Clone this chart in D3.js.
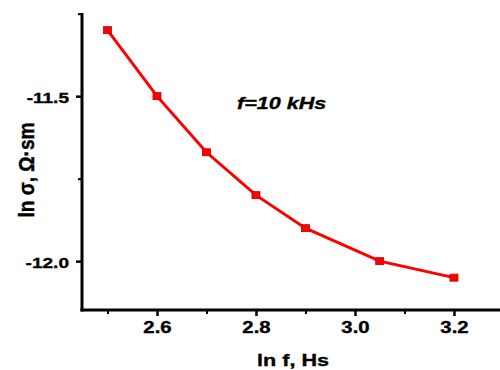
<!DOCTYPE html>
<html>
<head>
<meta charset="utf-8">
<script src="https://cdn.jsdelivr.net/npm/d3@7"></script>
<style>
  body { margin: 0; background: #fff; }
  svg text { font-family: Arial, "Liberation Sans", sans-serif; font-weight: bold; stroke: #000; stroke-width: 0.35px; }
</style>
</head>
<body>
<svg id="chart" width="500" height="370"></svg>
<script>
// data
const lnF = [2.5, 2.6, 2.7, 2.8, 2.9, 3.05, 3.2];
const lnSigma = [-11.30, -11.50, -11.67, -11.80, -11.90, -12.00, -12.05];
const xTicks = [2.6, 2.8, 3.0, 3.2];
const xMinor = [2.5, 2.7, 2.9, 3.1];
const yTicks = [-11.5, -12.0];
const yMinor = [-11.25, -11.75];

const svg = d3.select('#chart');
const plotLeft = 82, plotRight = 500, plotTop = 13, plotBottom = 310;
const stretch = 1.27; // the original picture is a bit wider than tall

const x = d3.scaleLinear().domain([2.4485, 3.293]).range([plotLeft, plotRight]);
const y = d3.scaleLinear().domain([-12.148, -11.248]).range([plotBottom, plotTop]);
const fmt = d => d.toFixed(1);

// minor ticks
svg.append('g')
  .attr('transform', 'translate(0,' + plotBottom + ')')
  .call(d3.axisBottom(x).tickValues(xMinor).tickSize(4).tickFormat(''))
  .call(g => g.select('.domain').remove())
  .selectAll('line').attr('stroke-width', 2);
svg.append('g')
  .attr('transform', 'translate(' + plotLeft + ',0)')
  .call(d3.axisLeft(y).tickValues(yMinor).tickSize(4).tickFormat(''))
  .call(g => g.select('.domain').remove())
  .selectAll('line').attr('stroke-width', 2);

// major ticks
let xAxis = svg.append('g')
  .attr('transform', 'translate(0,' + plotBottom + ')')
  .call(d3.axisBottom(x).tickValues(xTicks).tickSize(6).tickPadding(6).tickFormat(fmt));
xAxis.select('.domain').remove();
xAxis.selectAll('line').attr('stroke-width', 2.5);
xAxis.selectAll('text')
  .style('font-size', '16px')
  .attr('fill', '#000')
  .attr('transform', 'scale(' + stretch + ',1)');

let yAxis = svg.append('g')
  .attr('transform', 'translate(' + plotLeft + ',0)')
  .call(d3.axisLeft(y).tickValues(yTicks).tickSize(6).tickPadding(7).tickFormat(fmt));
yAxis.select('.domain').remove();
yAxis.selectAll('line').attr('stroke-width', 2.5);
yAxis.selectAll('text')
  .style('font-size', '15px')
  .attr('fill', '#000')
  .attr('dy', '0.42em')
  .each(function () {
    let t = d3.select(this);
    let tx = +t.attr('x');
    t.attr('x', 0).attr('transform', 'translate(' + tx + ',0) scale(' + stretch + ',1)');
  });

// axis lines
svg.append('line')
  .attr('x1', plotLeft).attr('y1', plotTop)
  .attr('x2', plotLeft).attr('y2', plotBottom + 1.5)
  .attr('stroke', '#000').attr('stroke-width', 3);
svg.append('line')
  .attr('x1', plotLeft - 1.5).attr('y1', plotBottom)
  .attr('x2', plotRight).attr('y2', plotBottom)
  .attr('stroke', '#000').attr('stroke-width', 3);

// series
const pts = lnF.map((d, i) => [d, lnSigma[i]]);
svg.append('path')
  .datum(pts)
  .attr('fill', 'none')
  .attr('stroke', '#ff0000')
  .attr('stroke-width', 3)
  .attr('d', d3.line().x(d => x(d[0])).y(d => y(d[1])));

svg.selectAll('rect.pt')
  .data(pts)
  .enter().append('rect')
  .attr('class', 'pt')
  .attr('x', d => x(d[0]) - 4)
  .attr('y', d => y(d[1]) - 3.5)
  .attr('width', 8)
  .attr('height', 7)
  .attr('fill', '#ff0000')
  .attr('stroke', '#c00000')
  .attr('stroke-width', 0.8);

// labels
svg.append('text')
  .attr('transform', 'translate(293,366) scale(' + stretch + ',1)')
  .attr('text-anchor', 'middle')
  .style('font-size', '17px')
  .text('ln f, Hs');

svg.append('text')
  .attr('transform', 'translate(34,170) rotate(-90) scale(1.12,' + stretch + ')')
  .attr('text-anchor', 'middle')
  .style('font-size', '17px')
  .text('ln σ, Ω·sm');

svg.append('text')
  .attr('transform', 'translate(237,109) scale(' + stretch + ',1)')
  .style('font-size', '17px')
  .style('font-style', 'italic')
  .text('f=10 kHs');
</script>
</body>
</html>
